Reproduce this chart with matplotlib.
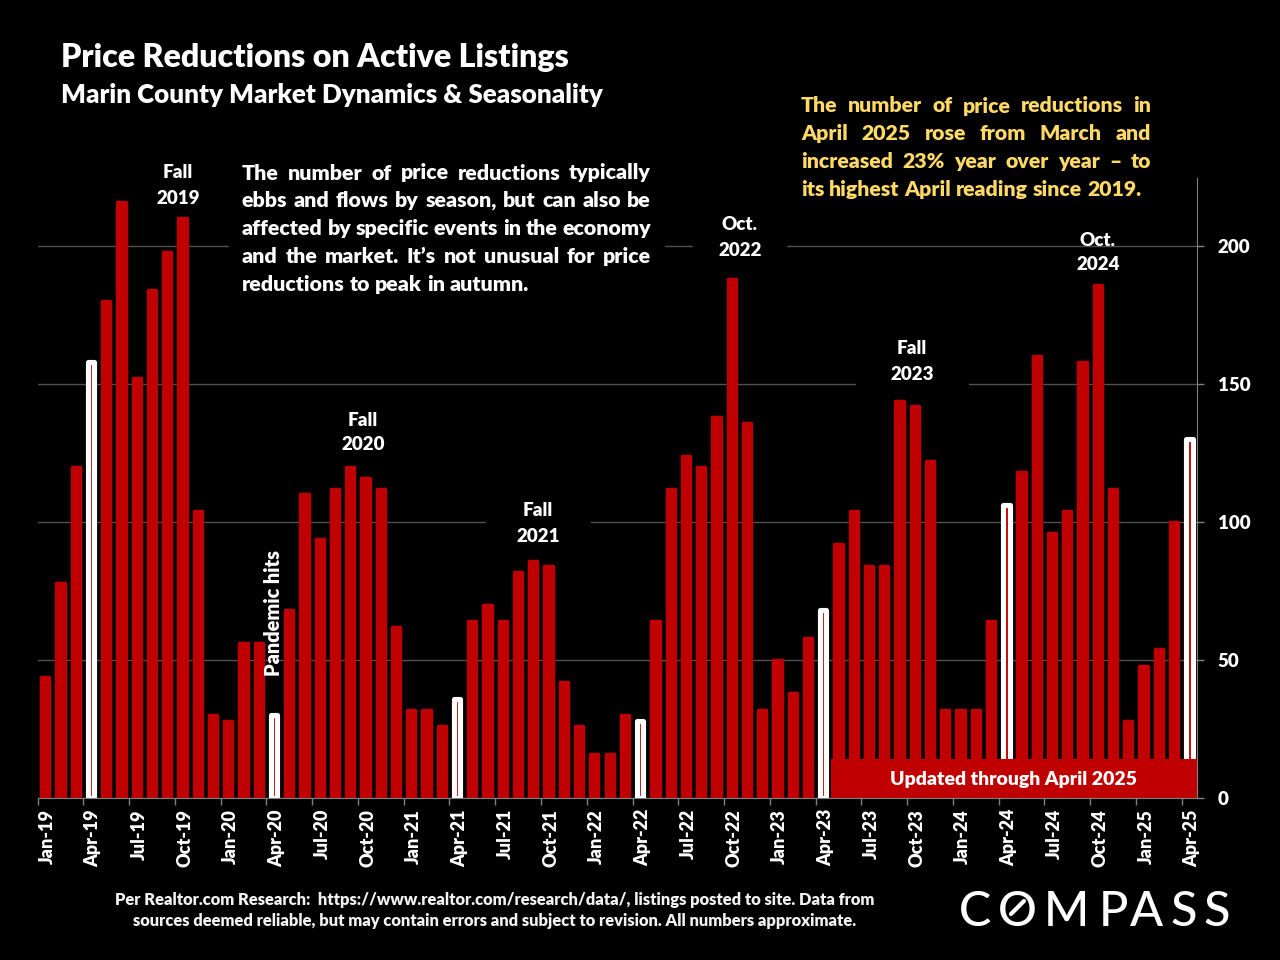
# -*- coding: utf-8 -*-
import matplotlib
matplotlib.use('Agg')
import matplotlib.pyplot as plt
from matplotlib.patches import Rectangle
import numpy as np

# DATA (monthly counts)
vals_2019 = [44, 78, 120, 158, 180, 216, 152, 184, 198, 210, 104, 30]
vals_2020 = [28, 56, 56, 30, 68, 110, 94, 112, 120, 116, 112, 62]
vals_2021 = [32, 32, 26, 36, 64, 70, 64, 82, 86, 84, 42, 26]
vals_2022 = [16, 16, 30, 28, 64, 112, 124, 120, 138, 188, 136, 32]
vals_2023 = [50, 38, 58, 68, 92, 104, 84, 84, 144, 142, 122, 32]
vals_2024 = [32, 32, 64, 106, 118, 160, 96, 104, 158, 186, 112, 28]
vals_2025 = [48, 54, 100, 130]

tick_labels = ['Jan-19', 'Apr-19', 'Jul-19', 'Oct-19', 'Jan-20', 'Apr-20', 'Jul-20',
               'Oct-20', 'Jan-21', 'Apr-21', 'Jul-21', 'Oct-21', 'Jan-22', 'Apr-22',
               'Jul-22', 'Oct-22', 'Jan-23', 'Apr-23', 'Jul-23', 'Oct-23', 'Jan-24',
               'Apr-24', 'Jul-24', 'Oct-24', 'Jan-25', 'Apr-25']
y_ticks = [0, 50, 100, 150, 200]
april_idx = [3, 15, 27, 39, 51, 63, 75]

values = np.array(vals_2019 + vals_2020 + vals_2021 + vals_2022 + vals_2023 + vals_2024 + vals_2025)
x = np.arange(len(values))

RED = '#C00000'
YELLOW = '#FFD966'
FONT = 'Lato'
W, H = 1280, 960
plt.rcParams['font.family'] = FONT
plt.rcParams['font.weight'] = 'heavy'

fig = plt.figure(figsize=(W / 100, H / 100), dpi=100, facecolor='black')

# chart axes, placed by image pixels
left, right, top, bottom = 37.5, 1197, 178, 798
ax = fig.add_axes([left / W, 1 - bottom / H, (right - left) / W, (bottom - top) / H])
ax.set_facecolor('black')
ax.set_xlim(-0.5, 75.5)
ax.set_ylim(0, (bottom - top) / 2.76)

# overlay in image pixels for text and logo
ov = fig.add_axes([0, 0, 1, 1])
ov.set_xlim(0, W)
ov.set_ylim(H, 0)
ov.axis('off')
ov.patch.set_alpha(0)

is_april = np.isin(x, april_idx)
ax.bar(x[~is_april], values[~is_april], width=0.54, color=RED, edgecolor=RED,
       linewidth=2.5, joinstyle='round', zorder=2)
ax.bar(x[is_april], values[is_april], width=0.426, color=RED, edgecolor='white',
       linewidth=3.7, joinstyle='round', zorder=2)

ax.yaxis.tick_right()
ax.set_yticks(y_ticks)
ax.set_xticks(np.arange(0, 76, 3) - 0.5)
ax.set_xticklabels([])
ax.set_xticks(np.arange(0, 76, 3) + 0.15, minor=True)
ax.set_xticklabels(tick_labels, minor=True, rotation=90, color='white', fontsize=13)
ax.tick_params(axis='x', which='major', length=5, width=1, color='#808080')
ax.tick_params(axis='x', which='minor', length=0, pad=8)
ax.tick_params(axis='y', length=5, width=1, color='#808080', labelcolor='white',
               labelsize=13.5, pad=10)
ax.grid(axis='y', color='#505050', linewidth=1)
ax.set_axisbelow(True)
for s in ['top', 'left']:
    ax.spines[s].set_visible(False)
for s in ['right', 'bottom']:
    ax.spines[s].set_color('#808080')
    ax.spines[s].set_zorder(4)

# text boxes in the original hide the gridlines behind them
for bx, by, bw, bh in [(229, 240, 436, 12), (693, 240, 94, 12), (856, 378, 113, 12), (486, 516, 105, 12)]:
    ax.add_patch(Rectangle((bx, by), bw, bh, transform=ov.transData, facecolor='black',
                           edgecolor='none', zorder=1, clip_on=False))

# banner
ax.add_patch(Rectangle((831, 759), 366, 39, transform=ov.transData, facecolor=RED,
                       edgecolor='none', zorder=3, clip_on=False))
ov.text(1014, 780, 'Updated through April 2025', color='white', fontsize=14, ha='center', va='center')

# titles
ov.text(61, 57.5, 'Price Reductions on Active Listings', color='white', fontsize=23.1, va='center')
ov.text(61, 95, 'Marin County Market Dynamics & Seasonality', color='white', fontsize=18.75, va='center')

# peak labels
peak_labels = [('Fall', '2019', 178, 173), ('Fall', '2020', 363, 420), ('Fall', '2021', 538, 511),
               ('Oct.', '2022', 740, 225), ('Fall', '2023', 912, 349), ('Oct.', '2024', 1098, 240)]
for a, b, px, py in peak_labels:
    ov.text(px, py, a, color='white', fontsize=13.5, ha='center', va='center')
    ov.text(px, py + 25, b, color='white', fontsize=13.5, ha='center', va='center')
ov.text(273, 612.5, 'Pandemic hits', color='white', fontsize=14.3, rotation=90, ha='center', va='center')


def justified(lines, x0, x1, y0, pitch, color, size):
    renderer = fig.canvas.get_renderer()
    probe = ov.text(0, 0, 'a b', fontsize=size)
    probe2 = ov.text(0, 0, 'ab', fontsize=size)
    space = probe.get_window_extent(renderer).width - probe2.get_window_extent(renderer).width
    probe.remove()
    probe2.remove()
    for i, line in enumerate(lines):
        words = [ov.text(0, y0 + i * pitch, w, color=color, fontsize=size, va='center') for w in line.split()]
        widths = [t.get_window_extent(renderer).width for t in words]
        gap = space
        if i < len(lines) - 1:
            gap = (x1 - x0 - sum(widths)) / (len(words) - 1)
        cx = x0
        for t, wd in zip(words, widths):
            t.set_x(cx)
            cx += wd + gap


justified(['The number of price reductions typically',
           'ebbs and flows by season, but can also be',
           'affected by specific events in the economy',
           'and the market. It’s not unusual for price',
           'reductions to peak in autumn.'], 242, 651, 173, 27.8, 'white', 15.4)
justified(['The number of price reductions in',
           'April 2025 rose from March and',
           'increased 23% year over year – to',
           'its highest April reading since 2019.'], 801, 1151, 106, 27.7, YELLOW, 15.35)

# footer
ov.text(495, 900, 'Per Realtor.com Research:  https://www.realtor.com/research/data/, listings posted to site. Data from',
        color='#F2F2F2', fontsize=11.9, ha='center', va='center')
ov.text(495, 921, 'sources deemed reliable, but may contain errors and subject to revision. All numbers approximate.',
        color='#F2F2F2', fontsize=11.9, ha='center', va='center')

# logo
for ch, cx in zip('COMPASS', [975, 1017.5, 1066, 1113, 1146.5, 1184, 1216.5]):
    ov.text(cx, 907.5, ch, color='white', fontsize=35, fontweight=500, ha='center', va='center_baseline')
ov.plot([1011, 1024], [914, 901], color='white', linewidth=3, solid_capstyle='round')

fig.savefig('out.png', dpi=100, facecolor='black')
